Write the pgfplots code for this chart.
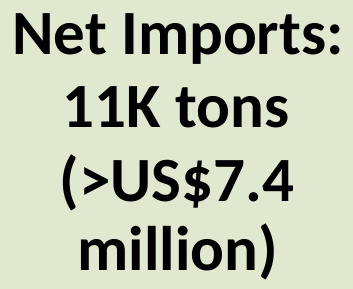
\documentclass[border=0pt]{standalone}
\usepackage{pgfplots}
\pgfplotsset{compat=1.18}
\usepackage{fontspec}
\setmainfont{Carlito}
\definecolor{bg}{HTML}{E0E9CF}
\begin{document}
\begin{tikzpicture}
\begin{axis}[
  width=353bp, height=289bp, scale only axis,
  xmin=0, xmax=353, ymin=0, ymax=289,
  hide axis, clip=false,
]
\fill[bg] (axis cs:0,0) rectangle (axis cs:353,289);
\node[anchor=base, font=\fontsize{63bp}{74bp}\selectfont\bfseries, inner sep=0pt] at (axis cs:178,234) {Net Imports:};
\node[anchor=base, font=\fontsize{63bp}{74bp}\selectfont\bfseries, inner sep=0pt] at (axis cs:176,161) {11K tons};
\node[anchor=base, font=\fontsize{63bp}{74bp}\selectfont\bfseries, inner sep=0pt] at (axis cs:177,87) {(>US\$7.4};
\node[anchor=base, font=\fontsize{63bp}{74bp}\selectfont\bfseries, inner sep=0pt] at (axis cs:178,19) {million)};
\end{axis}
\end{tikzpicture}
\end{document}
